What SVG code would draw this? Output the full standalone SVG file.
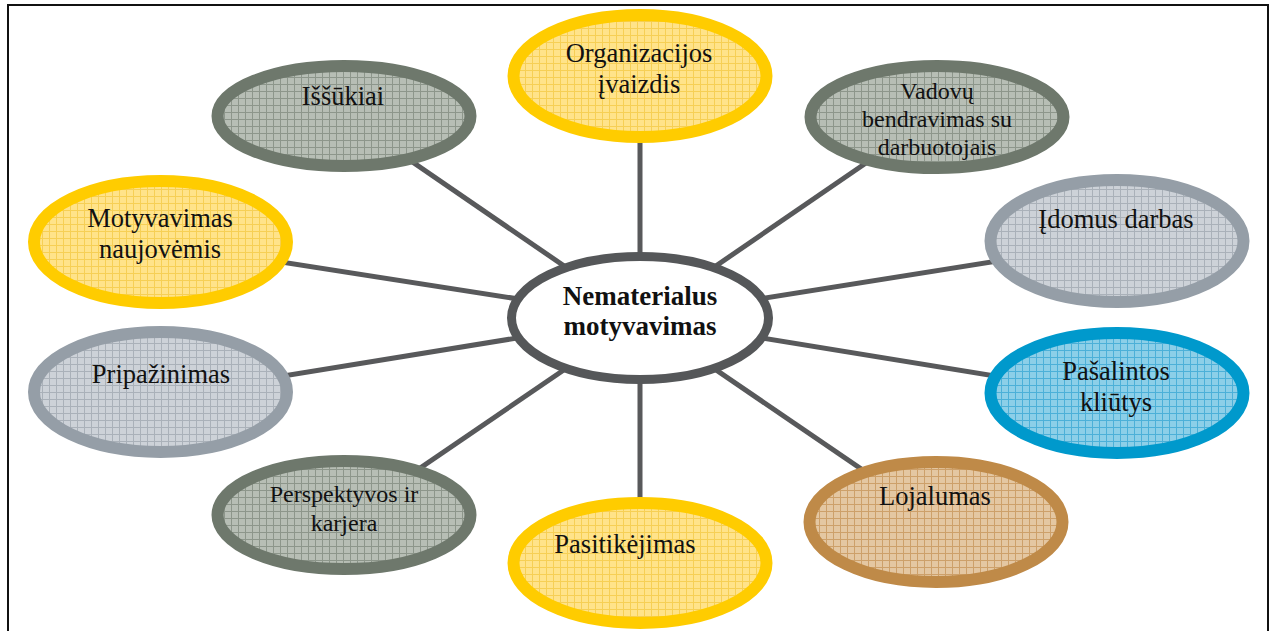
<svg xmlns="http://www.w3.org/2000/svg" width="1274" height="631" viewBox="0 0 1274 631">
<style>
.lbl{font-family:"Liberation Serif","Times New Roman",serif;font-size:26.5px;fill:#111;text-anchor:middle}
.sm{font-size:24px}
.ctr{font-weight:bold;font-size:27px}
.conn{stroke:#58595b;stroke-width:5;fill:none}
.node{stroke-width:12}
.y{stroke:#ffcc00;fill:url(#pY)}
.g{stroke:#6e786c;fill:url(#pG)}
.b{stroke:#959ea7;fill:url(#pB)}
.c{stroke:#0099cc;fill:url(#pC)}
.br{stroke:#bf8a48;fill:url(#pBr)}
</style>
<defs>
<pattern id="pY" width="7" height="7" patternUnits="userSpaceOnUse"><rect width="7" height="7" fill="#ffe38a"/><path d="M0 0.5H7M0.5 0V7" stroke="#f6cf55" stroke-width="1"/></pattern>
<pattern id="pG" width="7" height="7" patternUnits="userSpaceOnUse"><rect width="7" height="7" fill="#b7beb5"/><path d="M0 0.5H7M0.5 0V7" stroke="#8d968b" stroke-width="1"/></pattern>
<pattern id="pB" width="7" height="7" patternUnits="userSpaceOnUse"><rect width="7" height="7" fill="#cdd2d8"/><path d="M0 0.5H7M0.5 0V7" stroke="#aab1b9" stroke-width="1"/></pattern>
<pattern id="pC" width="7" height="7" patternUnits="userSpaceOnUse"><rect width="7" height="7" fill="#8ccfe8"/><path d="M0 0.5H7M0.5 0V7" stroke="#4cb0d8" stroke-width="1"/></pattern>
<pattern id="pBr" width="7" height="7" patternUnits="userSpaceOnUse"><rect width="7" height="7" fill="#e4c7a2"/><path d="M0 0.5H7M0.5 0V7" stroke="#cda06a" stroke-width="1"/></pattern>
</defs>
<rect x="8" y="5" width="1260" height="700" fill="none" stroke="#111" stroke-width="2"/>
<g id="connectors">
<line class="conn" x1="640" y1="318" x2="640" y2="76"/>
<line class="conn" x1="640" y1="318" x2="640" y2="567"/>
<line class="conn" x1="640" y1="318" x2="344" y2="115"/>
<line class="conn" x1="640" y1="318" x2="936" y2="115"/>
<line class="conn" x1="640" y1="318" x2="160" y2="243"/>
<line class="conn" x1="640" y1="318" x2="1117" y2="242"/>
<line class="conn" x1="640" y1="318" x2="160" y2="396"/>
<line class="conn" x1="640" y1="318" x2="1117" y2="396"/>
<line class="conn" x1="640" y1="318" x2="344" y2="520"/>
<line class="conn" x1="640" y1="318" x2="936" y2="520"/>
</g>
<g id="n-organizacijos"><ellipse class="node y" cx="640" cy="76" rx="126.5" ry="61"/><text class="lbl"><tspan x="639" y="62">Organizacijos</tspan><tspan x="639" y="93">įvaizdis</tspan></text></g>
<g id="n-issukiai"><ellipse class="node g" cx="344" cy="116" rx="126.5" ry="50"/><text class="lbl" x="343" y="105">Iššūkiai</text></g>
<g id="n-vadovu"><ellipse class="node g" cx="937" cy="117" rx="126.5" ry="51"/><text class="lbl sm"><tspan x="937" y="99">Vadovų</tspan><tspan x="937" y="127">bendravimas su</tspan><tspan x="937" y="155">darbuotojais</tspan></text></g>
<g id="n-motyvavimas"><ellipse class="node y" cx="160.5" cy="242" rx="126.5" ry="61"/><text class="lbl"><tspan x="160" y="227">Motyvavimas</tspan><tspan x="160" y="258">naujovėmis</tspan></text></g>
<g id="n-idomus"><ellipse class="node b" cx="1117" cy="241" rx="126.5" ry="61"/><text class="lbl" x="1116" y="228">Įdomus darbas</text></g>
<g id="n-pripazinimas"><ellipse class="node b" cx="160.5" cy="392" rx="126.5" ry="60"/><text class="lbl" x="161" y="383">Pripažinimas</text></g>
<g id="n-pasalintos"><ellipse class="node c" cx="1117" cy="393" rx="126.5" ry="60"/><text class="lbl"><tspan x="1116" y="380">Pašalintos</tspan><tspan x="1116" y="411">kliūtys</tspan></text></g>
<g id="n-perspektyvos"><ellipse class="node g" cx="344" cy="515" rx="126.5" ry="54"/><text class="lbl sm"><tspan x="344" y="502">Perspektyvos ir</tspan><tspan x="344" y="531">karjera</tspan></text></g>
<g id="n-lojalumas"><ellipse class="node br" cx="936" cy="522" rx="126.5" ry="60"/><text class="lbl" x="935" y="505">Lojalumas</text></g>
<g id="n-pasitikejimas"><ellipse class="node y" cx="640" cy="563" rx="126.5" ry="60"/><text class="lbl" x="625" y="553">Pasitikėjimas</text></g>
<g id="n-center"><ellipse cx="640" cy="318" rx="128.5" ry="61.5" fill="#fff" stroke="#555759" stroke-width="9"/><text class="lbl ctr"><tspan x="640" y="305">Nematerialus</tspan><tspan x="640" y="335">motyvavimas</tspan></text></g>
</svg>
